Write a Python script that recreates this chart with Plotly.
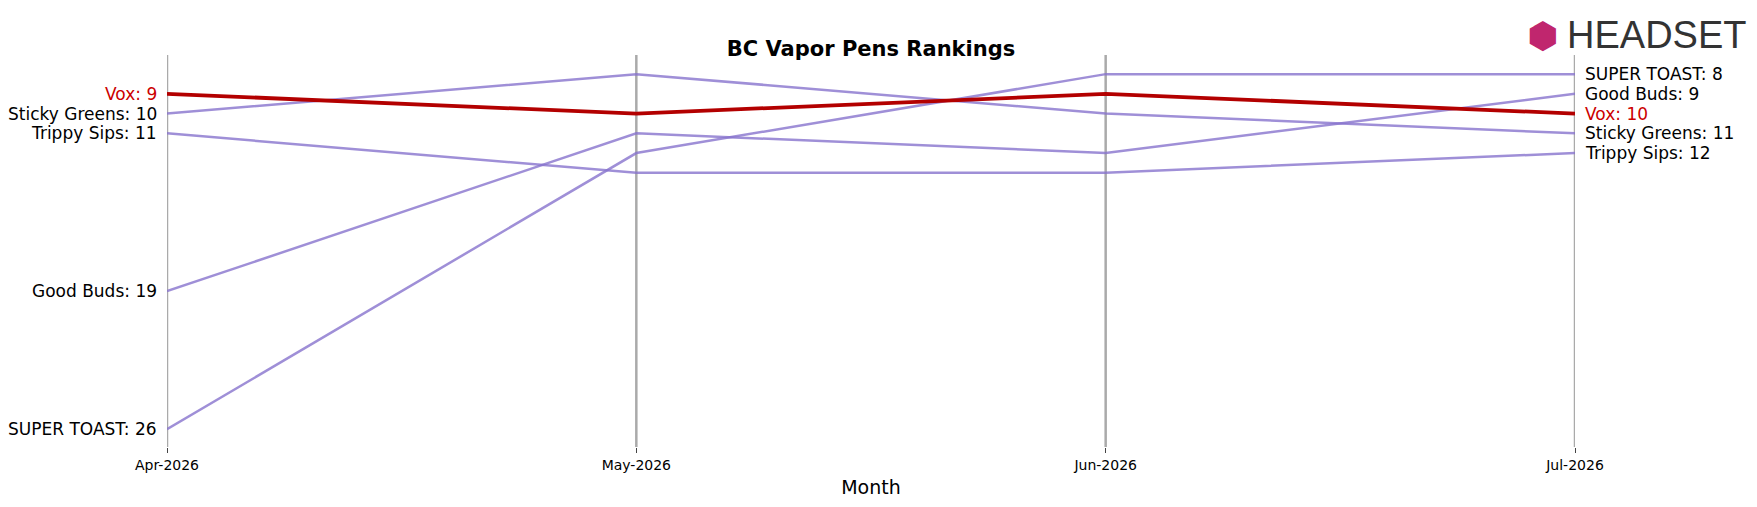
import plotly.graph_objects as go

months = ["Apr-2026", "May-2026", "Jun-2026", "Jul-2026"]
brands = ["Sticky Greens", "Trippy Sips", "Good Buds", "SUPER TOAST", "Vox"]
ranks = {
    "Sticky Greens": [10, 8, 10, 11],
    "Trippy Sips": [11, 13, 13, 12],
    "Good Buds": [19, 11, 12, 9],
    "SUPER TOAST": [26, 12, 8, 8],
    "Vox": [9, 10, 9, 10],
}
highlight = "Vox"

FONT = "DejaVu Sans"
fig = go.Figure()
for m in months:
    fig.add_shape(type="line", x0=m, x1=m, y0=0, y1=1, yref="paper",
                  line=dict(color="#aaaaaa", width=2.5), layer="below")
for b in brands:
    hl = b == highlight
    fig.add_trace(go.Scatter(
        x=months, y=ranks[b], mode="lines", name=b,
        line=dict(color="#b30000" if hl else "rgba(135,115,205,0.8)", width=3.8 if hl else 2.5),
    ))
    col = "#cc0000" if hl else "black"
    fig.add_annotation(x=months[0], y=ranks[b][0], text=f"{b}: {ranks[b][0]}", xanchor="right",
                       xshift=-8, showarrow=False, font=dict(size=17, color=col, family=FONT))
    fig.add_annotation(x=months[-1], y=ranks[b][-1], text=f"{b}: {ranks[b][-1]}", xanchor="left",
                       xshift=8, showarrow=False, font=dict(size=17, color=col, family=FONT))

# logo
fig.add_annotation(x=1.123, y=1.05, xref="paper", yref="paper", text="HEADSET",
                   showarrow=False, xanchor="right", yanchor="middle",
                   font=dict(size=38, color="#333333", family="Liberation Sans"))
fig.add_annotation(x=0.977, y=1.05, xref="paper", yref="paper", text="⬢",
                   showarrow=False, xanchor="center", yanchor="middle",
                   font=dict(size=36, color="#c0266e", family=FONT))

fig.update_layout(
    width=1757, height=507, template="plotly_white",
    margin=dict(l=159, r=190, t=47, b=68),
    showlegend=False,
    title=dict(text="<b>BC Vapor Pens Rankings</b>", x=0.5, xref="paper", y=0.935,
               font=dict(size=21, family=FONT, color="black")),
    font=dict(family=FONT, color="black"),
    plot_bgcolor="white",
)
fig.update_xaxes(showgrid=False, zeroline=False,
                 ticks="outside", ticklen=5, tickfont=dict(size=14),
                 title=dict(text="Month", font=dict(size=19), standoff=8), range=[0, 3], showline=False)
fig.update_yaxes(range=[26.9, 7.03], showgrid=False, showticklabels=False, zeroline=False)
fig.write_html("out.html")
